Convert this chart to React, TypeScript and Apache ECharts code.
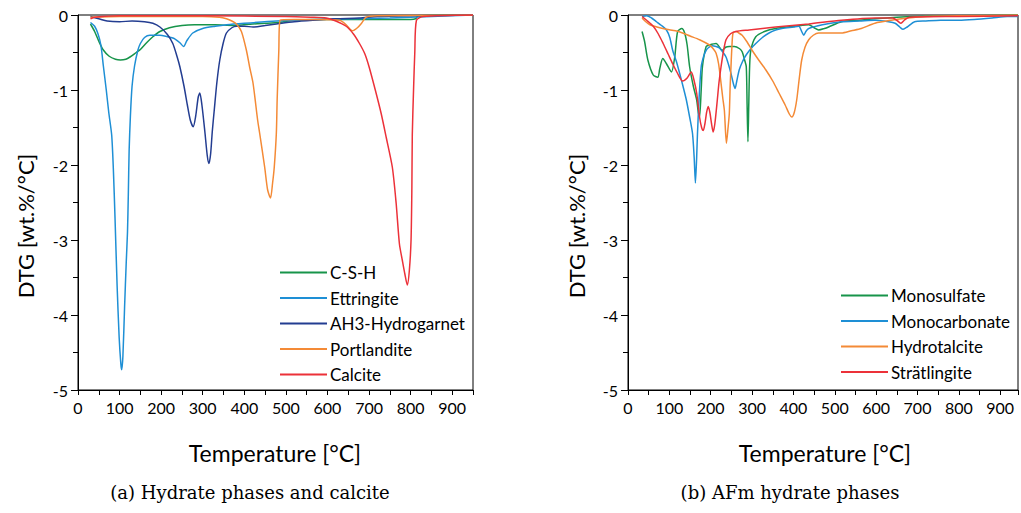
import React, { useEffect, useRef } from "react";
import * as echarts from "echarts";

// ---- Panel (a): Hydrate phases and calcite ----  [temperature °C, DTG wt.%/°C]
const cshData = [[30,-0.12],[40,-0.22],[50,-0.35],[60,-0.46],[75,-0.55],[90,-0.59],[102,-0.6],[115,-0.59],[125,-0.56],[140,-0.5],[150,-0.46],[165,-0.37],[180,-0.29],[197,-0.22],[220,-0.17],[250,-0.14],[280,-0.13],[330,-0.13],[372,-0.14],[420,-0.12],[480,-0.1],[520,-0.07],[600,-0.06],[700,-0.06],[800,-0.06],[812,-0.05],[818,-0.01],[950,0]];
const ettringiteData = [[30,-0.1],[40,-0.15],[48,-0.25],[55,-0.4],[61,-0.68],[68,-1.0],[74,-1.3],[81,-1.6],[85,-2.05],[89,-2.7],[94,-3.6],[99,-4.3],[103,-4.65],[105,-4.73],[108,-4.55],[112,-3.9],[116,-3.3],[119,-2.9],[121,-2.4],[123,-1.8],[126,-1.35],[130,-0.95],[136,-0.68],[144,-0.47],[150,-0.38],[160,-0.3],[173,-0.27],[197,-0.27],[215,-0.29],[230,-0.31],[245,-0.37],[254,-0.42],[262,-0.34],[276,-0.24],[300,-0.18],[330,-0.15],[357,-0.13],[400,-0.11],[477,-0.08],[560,-0.06],[650,-0.05],[750,-0.04],[850,-0.02],[950,0]];
const ah3Data = [[30,-0.02],[50,-0.05],[70,-0.08],[100,-0.09],[130,-0.08],[160,-0.09],[180,-0.11],[197,-0.16],[215,-0.26],[228,-0.38],[238,-0.55],[245,-0.69],[255,-0.95],[263,-1.2],[270,-1.4],[277,-1.49],[283,-1.35],[289,-1.1],[293,-1.04],[298,-1.2],[305,-1.55],[311,-1.88],[315,-1.98],[319,-1.85],[323,-1.55],[328,-1.25],[334,-0.9],[341,-0.6],[349,-0.38],[357,-0.24],[370,-0.17],[381,-0.15],[400,-0.15],[421,-0.16],[450,-0.14],[477,-0.12],[520,-0.09],[565,-0.07],[620,-0.05],[677,-0.04],[720,-0.02],[800,-0.01],[950,0]];
const portlanditeData = [[30,-0.03],[100,-0.02],[200,-0.02],[300,-0.02],[340,-0.03],[357,-0.05],[370,-0.08],[381,-0.12],[393,-0.22],[405,-0.47],[413,-0.7],[421,-0.91],[432,-1.4],[437,-1.58],[449,-2.03],[456,-2.33],[463,-2.44],[468,-2.24],[472,-2.03],[477,-1.58],[479,-1.13],[483,-0.47],[486,-0.07],[520,-0.06],[580,-0.06],[629,-0.07],[645,-0.13],[660,-0.21],[672,-0.17],[682,-0.11],[693,-0.03],[720,-0.01],[950,0]];
const calciteData = [[30,-0.05],[40,-0.03],[100,-0.01],[300,-0.01],[500,-0.02],[560,-0.03],[597,-0.04],[620,-0.08],[645,-0.15],[662,-0.25],[677,-0.38],[690,-0.52],[700,-0.69],[715,-1.0],[729,-1.31],[742,-1.65],[756,-2.03],[765,-2.5],[773,-3.05],[780,-3.27],[786,-3.45],[792,-3.6],[797,-3.4],[801,-3.0],[803,-2.3],[804,-1.6],[807,-1.0],[810,-0.5],[814,-0.07],[830,-0.02],[950,0]];

// ---- Panel (b): AFm hydrate phases ----
const monosulfateData = [[34,-0.22],[40,-0.35],[48,-0.6],[61,-0.8],[72,-0.83],[77,-0.71],[84,-0.58],[93,-0.65],[105,-0.76],[113,-0.56],[120,-0.22],[130,-0.18],[137,-0.24],[143,-0.4],[149,-0.69],[158,-0.95],[166,-1.13],[170,-1.3],[173,-1.36],[177,-1.0],[180,-0.69],[189,-0.42],[197,-0.4],[213,-0.38],[228,-0.47],[236,-0.43],[245,-0.42],[257,-0.42],[270,-0.45],[276,-0.49],[282,-0.6],[286,-0.69],[288,-1.2],[290,-1.69],[292,-1.2],[294,-0.7],[297,-0.47],[309,-0.29],[330,-0.22],[357,-0.18],[405,-0.15],[437,-0.13],[450,-0.17],[461,-0.2],[475,-0.18],[485,-0.16],[516,-0.09],[560,-0.07],[597,-0.05],[650,-0.03],[700,-0.02],[800,-0.01],[943,0]];
const monocarbonateData = [[34,-0.02],[45,-0.01],[57,-0.04],[69,-0.09],[81,-0.14],[93,-0.2],[101,-0.3],[108,-0.47],[117,-0.62],[125,-0.78],[133,-0.95],[141,-1.13],[149,-1.36],[156,-1.58],[160,-1.9],[163,-2.24],[166,-1.9],[168,-1.58],[172,-1.1],[177,-0.69],[183,-0.55],[189,-0.47],[196,-0.43],[204,-0.41],[213,-0.42],[221,-0.44],[230,-0.5],[237,-0.56],[243,-0.66],[249,-0.78],[255,-0.92],[259,-0.98],[263,-0.88],[269,-0.73],[277,-0.62],[286,-0.53],[297,-0.45],[309,-0.38],[325,-0.3],[341,-0.24],[357,-0.2],[372,-0.18],[400,-0.16],[413,-0.15],[420,-0.22],[425,-0.27],[430,-0.22],[437,-0.18],[470,-0.13],[516,-0.09],[560,-0.08],[597,-0.07],[630,-0.09],[646,-0.11],[657,-0.16],[665,-0.19],[675,-0.16],[693,-0.09],[720,-0.08],[756,-0.07],[800,-0.07],[837,-0.06],[880,-0.04],[917,-0.02],[943,-0.02]];
const hydrotalciteData = [[34,-0.04],[43,-0.09],[53,-0.13],[70,-0.16],[93,-0.19],[115,-0.21],[132,-0.24],[150,-0.28],[173,-0.33],[197,-0.4],[206,-0.45],[213,-0.51],[219,-0.65],[225,-0.91],[229,-1.1],[233,-1.27],[238,-1.71],[242,-1.5],[245,-1.31],[247,-0.95],[249,-0.69],[251,-0.45],[254,-0.24],[261,-0.22],[268,-0.24],[276,-0.27],[288,-0.36],[300,-0.47],[316,-0.6],[333,-0.73],[350,-0.88],[365,-1.04],[380,-1.2],[390,-1.32],[396,-1.36],[402,-1.3],[408,-1.13],[414,-0.85],[420,-0.6],[428,-0.43],[437,-0.33],[448,-0.27],[461,-0.24],[490,-0.24],[516,-0.24],[540,-0.21],[564,-0.18],[597,-0.11],[636,-0.07],[677,-0.04],[720,-0.02],[800,-0.01],[943,0]];
const stratlingiteData = [[34,-0.02],[45,-0.07],[61,-0.15],[73,-0.25],[85,-0.38],[97,-0.52],[108,-0.65],[120,-0.78],[132,-0.88],[143,-0.84],[153,-0.76],[160,-0.88],[166,-1.04],[173,-1.36],[178,-1.5],[182,-1.54],[186,-1.45],[190,-1.3],[194,-1.22],[198,-1.3],[202,-1.45],[206,-1.56],[210,-1.45],[216,-1.13],[220,-0.9],[225,-0.69],[231,-0.48],[237,-0.33],[248,-0.25],[261,-0.22],[293,-0.2],[357,-0.16],[437,-0.12],[516,-0.07],[597,-0.04],[640,-0.04],[652,-0.08],[660,-0.11],[668,-0.07],[680,-0.03],[800,-0.02],[943,-0.01]];

const seriesA = ["C-S-H", "Ettringite", "AH3-Hydrogarnet", "Portlandite", "Calcite"];
const seriesB = ["Monosulfate", "Monocarbonate", "Hydrotalcite", "Strätlingite"];
const yTicks = [0, -1, -2, -3, -4, -5];
const xTickStep = 100;

const GREEN = "#17944a";
const LBLUE = "#1e8fd5";
const NAVY = "#233d91";
const ORANGE = "#f48a36";
const RED = "#ec3139";

const FONT = "Lato";

function App() {
  const ref = useRef<HTMLDivElement>(null);
  useEffect(() => {
    if (!ref.current) return;
    const chart = echarts.init(ref.current, null, { renderer: "svg" });
    const mkX = (gi: number, max: number) => ({
      type: "value",
      gridIndex: gi,
      min: 0,
      max,
      interval: 50,
      axisLine: { show: true, onZero: false, lineStyle: { color: "#000", width: 1 } },
      axisTick: { show: true, length: 5, lineStyle: { color: "#000" } },
      axisLabel: {
        color: "#000",
        fontFamily: FONT,
        fontSize: 16,
        margin: 9,
        formatter: (v: number) => (v % xTickStep === 0 ? String(v) : ""),
      },
      splitLine: { show: false },
    });
    const mkY = (gi: number) => ({
      type: "value",
      gridIndex: gi,
      min: yTicks[yTicks.length - 1],
      max: yTicks[0],
      interval: 1,
      axisLine: { show: true, onZero: false, lineStyle: { color: "#000", width: 1 } },
      axisTick: { show: true, length: 7, lineStyle: { color: "#000" } },
      minorTick: { show: true, splitNumber: 2, length: 5, lineStyle: { color: "#000" } },
      axisLabel: { color: "#000", fontFamily: FONT, fontSize: 16, margin: 10 },
      splitLine: { show: false },
    });
    const mkS = (name: string, data: number[][], color: string, gi: number) => ({
      name,
      type: "line",
      xAxisIndex: gi,
      yAxisIndex: gi,
      data,
      symbol: "none",
      smooth: 0.25,
      lineStyle: { color, width: 1.5 },
      itemStyle: { color },
    });
    const mkLegend = (data: string[], left: number, top: number) => ({
      data,
      orient: "vertical",
      left,
      top,
      icon: "rect",
      itemWidth: 47,
      itemHeight: 2,
      itemGap: 8.5,
      padding: 0,
      textStyle: { fontFamily: FONT, fontSize: 17, lineHeight: 17, color: "#000", padding: [0, 0, 0, -2] },
    });
    const txt = (x: number, y: number, text: string, size: number, family: string, rotation = 0) => ({
      type: "text",
      x,
      y,
      rotation,
      style: { text, fontSize: size, fontFamily: family, fill: "#000", align: "center", verticalAlign: "middle" },
    });
    chart.setOption({
      animation: false,
      backgroundColor: "#fff",
      grid: [
        { left: 78, top: 15, width: 395, height: 375, show: true, borderColor: "#000", borderWidth: 1 },
        { left: 628, top: 15, width: 393, height: 375, show: true, borderColor: "#000", borderWidth: 1 },
      ],
      xAxis: [mkX(0, 950), mkX(1, 943)],
      yAxis: [mkY(0), mkY(1)],
      legend: [mkLegend(seriesA, 280, 264), mkLegend(seriesB, 841, 287)],
      series: [
        mkS(seriesA[0], cshData, GREEN, 0),
        mkS(seriesA[1], ettringiteData, LBLUE, 0),
        mkS(seriesA[2], ah3Data, NAVY, 0),
        mkS(seriesA[3], portlanditeData, ORANGE, 0),
        mkS(seriesA[4], calciteData, RED, 0),
        mkS(seriesB[0], monosulfateData, GREEN, 1),
        mkS(seriesB[1], monocarbonateData, LBLUE, 1),
        mkS(seriesB[2], hydrotalciteData, ORANGE, 1),
        mkS(seriesB[3], stratlingiteData, RED, 1),
      ],
      graphic: [
        txt(25, 226, "DTG [wt.%/°C]", 22, FONT, Math.PI / 2),
        txt(576, 226, "DTG [wt.%/°C]", 22, FONT, Math.PI / 2),
        txt(275, 453, "Temperature [°C]", 23, FONT),
        txt(825, 453, "Temperature [°C]", 23, FONT),
        txt(250, 492, "(a) Hydrate phases and calcite", 18, "DejaVu Serif"),
        txt(790, 492, "(b) AFm hydrate phases", 18, "DejaVu Serif"),
      ],
    });
    return () => chart.dispose();
  }, []);
  return <div ref={ref} style={{ width: 1021, height: 513, position: "absolute", left: 0, top: 0 }} />;
}

export default App;
